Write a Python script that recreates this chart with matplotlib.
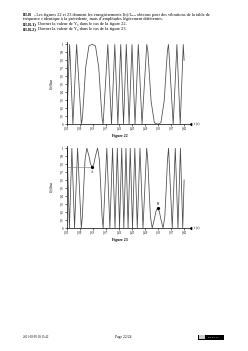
import matplotlib
matplotlib.use("Agg")
import matplotlib.pyplot as plt
from matplotlib.patches import Rectangle

plt.rcParams['font.family'] = ['Liberation Serif', 'DejaVu Serif']
plt.rcParams['mathtext.fontset'] = 'stix'

# ---- data ----
# Figure 22 : I(t)/Imax  (times in s)
t22 = [0.050, 0.0589, 0.0690, 0.0803, 0.0948, 0.098, 0.103, 0.108, 0.118, 0.128,
       0.138, 0.148, 0.153, 0.158, 0.1613, 0.1757, 0.1870, 0.1971, 0.2064, 0.2152,
       0.2238, 0.2322, 0.2408, 0.2496, 0.2589, 0.2690, 0.2803, 0.2948, 0.298, 0.303,
       0.308, 0.318, 0.328, 0.338, 0.348, 0.353, 0.358, 0.3612, 0.3757, 0.3870,
       0.3971, 0.4064, 0.409]
i22 = [0.00, 1.00, 0.00, 1.00, 0.00, 0.08, 0.39, 0.71, 0.98, 1.00,
       0.98, 0.71, 0.39, 0.08, 0.00, 1.00, 0.00, 1.00, 0.00, 1.00,
       0.00, 1.00, 0.00, 1.00, 0.00, 1.00, 0.00, 1.00, 0.92, 0.61,
       0.29, 0.02, 0.00, 0.02, 0.29, 0.61, 0.92, 1.00, 0.00, 1.00,
       0.00, 1.00, 0.80]

# Figure 23
t23 = [0.050, 0.0512, 0.0583, 0.0658, 0.0740, 0.0833, 0.0946, 0.098, 0.101, 0.106,
       0.1115, 0.118, 0.123, 0.128, 0.133, 0.138, 0.1445, 0.150, 0.155, 0.158,
       0.1614, 0.1727, 0.1820, 0.1902, 0.1977, 0.2048, 0.2116, 0.2182, 0.2247, 0.2312,
       0.2377, 0.2443, 0.2512, 0.2583, 0.2658, 0.2740, 0.2833, 0.2945, 0.298, 0.301,
       0.306, 0.3115, 0.318, 0.323, 0.328, 0.333, 0.338, 0.3445, 0.350, 0.355,
       0.358, 0.3615, 0.3727, 0.3820, 0.3902, 0.3977, 0.4048, 0.409]
i23 = [0.92, 1.00, 0.00, 1.00, 0.00, 1.00, 0.00, 0.15, 0.43, 0.85,
       1.00, 0.90, 0.80, 0.76, 0.80, 0.90, 1.00, 0.85, 0.43, 0.15,
       0.00, 1.00, 0.00, 1.00, 0.00, 1.00, 0.00, 1.00, 0.00, 1.00,
       0.00, 1.00, 0.00, 1.00, 0.00, 1.00, 0.00, 1.00, 0.84, 0.56,
       0.14, 0.00, 0.11, 0.21, 0.25, 0.21, 0.11, 0.00, 0.14, 0.56,
       0.84, 1.00, 0.00, 1.00, 0.00, 1.00, 0.00, 0.60]

pointA = (0.128, 0.76)
pointB = (0.328, 0.25)

xticks = [0.05, 0.09, 0.13, 0.17, 0.21, 0.25, 0.29, 0.33, 0.37, 0.41]
xticklabels = ['0,05', '0,09', '0,13', '0,17', '0,21', '0,25', '0,29', '0,33', '0,37', '0,41']
yticks = [0, 0.1, 0.2, 0.3, 0.4, 0.5, 0.6, 0.7, 0.8, 0.9, 1]
yticklabels = ['0', '0,1', '0,2', '0,3', '0,4', '0,5', '0,6', '0,7', '0,8', '0,9', '1']

W, H = 248, 351
fig = plt.figure(figsize=(W / 100, H / 100), dpi=100)
fig.patch.set_facecolor('white')

def px(x, y):
    return x / W, 1 - y / H

# ---- header text ----
fs = 3.15
header = [
    (14.7, 'III.B', 10.0, '– Les figures 22 et 23 donnent les enregistrements I(t)/Iₘₐₓ obtenus pour des vibrations de la table de'),
    (18.9, None, 0, 'fréquence f identique à la précédente, mais d’amplitudes légèrement différentes.'),
    (23.8, 'III.B.1)', 14.5, 'Donner la valeur de Y₀ dans le cas de la figure 22.'),
    (29.3, 'III.B.2)', 14.5, 'Donner la valeur de Y₀ dans le cas de la figure 23.'),
]
for y, bold, off, rest in header:
    if bold:
        fig.text(*px(23, y), bold, fontsize=fs, fontweight='bold', va='center', ha='left')
    fig.text(*px(23 + off, y), rest, fontsize=fs, va='center', ha='left')

def make_axes(ybottom, t, v):
    left, right = 66.7, 190.0
    ytop = ybottom - 82.4
    ax = fig.add_axes([left / W, 1 - ybottom / H, (right - left) / W, (ybottom - ytop) / H])
    ax.plot(t, v, color='#4a4a4a', lw=0.55, solid_joinstyle='miter')
    ax.set_xlim(0.05, 0.427)
    ax.set_ylim(0, 1.03)
    for s in ('top', 'right'):
        ax.spines[s].set_visible(False)
    for s in ('left', 'bottom'):
        ax.spines[s].set_linewidth(0.5)
    ax.set_xticks(xticks)
    ax.set_xticklabels(xticklabels)
    ax.set_yticks(yticks)
    ax.set_yticklabels(yticklabels)
    ax.tick_params(labelsize=2.2, length=1.2, width=0.4, pad=1)
    ax.plot(1, 0, marker=4, ms=1.6, color='black', transform=ax.transAxes, clip_on=False)
    ax.text(1.035, 0, 't (s)', transform=ax.transAxes, fontsize=2.4, va='center', ha='left')
    ax.set_ylabel(r'$I(t)/I_{\max}$', fontsize=2.6, labelpad=3)
    ax.patch.set_alpha(0)
    return ax

ax1 = make_axes(124.3, t22, i22)
fig.text(*px(120, 136), 'Figure 22', fontsize=2.8, fontweight='bold', ha='center', va='center')

ax2 = make_axes(228.0, t23, i23)
fig.text(*px(120, 240.5), 'Figure 23', fontsize=2.8, fontweight='bold', ha='center', va='center')

ax2.plot([0.05, pointA[0]], [pointA[1], pointA[1]], color='#777777', lw=0.4)
ax2.plot(*pointA, marker='o', ms=1.3, color='black')
ax2.text(pointA[0], pointA[1] - 0.03, 'A', fontsize=2.4, ha='center', va='top')
ax2.plot(*pointB, marker='o', ms=1.3, color='black')
ax2.text(pointB[0], pointB[1] + 0.03, 'B', fontsize=2.4, ha='center', va='bottom')

# ---- footer ----
fig.text(*px(23, 337), '2011-03-09 10:15:42', fontsize=2.2, ha='left', va='center')
fig.text(*px(123, 337), 'Page 22/24', fontsize=2.6, ha='center', va='center')
x0, y0 = 198 / W, 1 - 339.5 / H
fig.patches.append(Rectangle((x0, y0), 26 / W, 5 / H, transform=fig.transFigure,
                             facecolor='black', edgecolor='none'))
fig.patches.append(Rectangle((x0 + 0.5 / W, y0 + 0.7 / H), 6 / W, 3.6 / H, transform=fig.transFigure,
                             facecolor='#cccccc', edgecolor='none'))
fig.text(x0 + 15.5 / W, y0 + 2.5 / H, 'BY NC SA', fontsize=1.6, color='white', ha='center', va='center')

fig.savefig('out.png', dpi=100, facecolor='white')
